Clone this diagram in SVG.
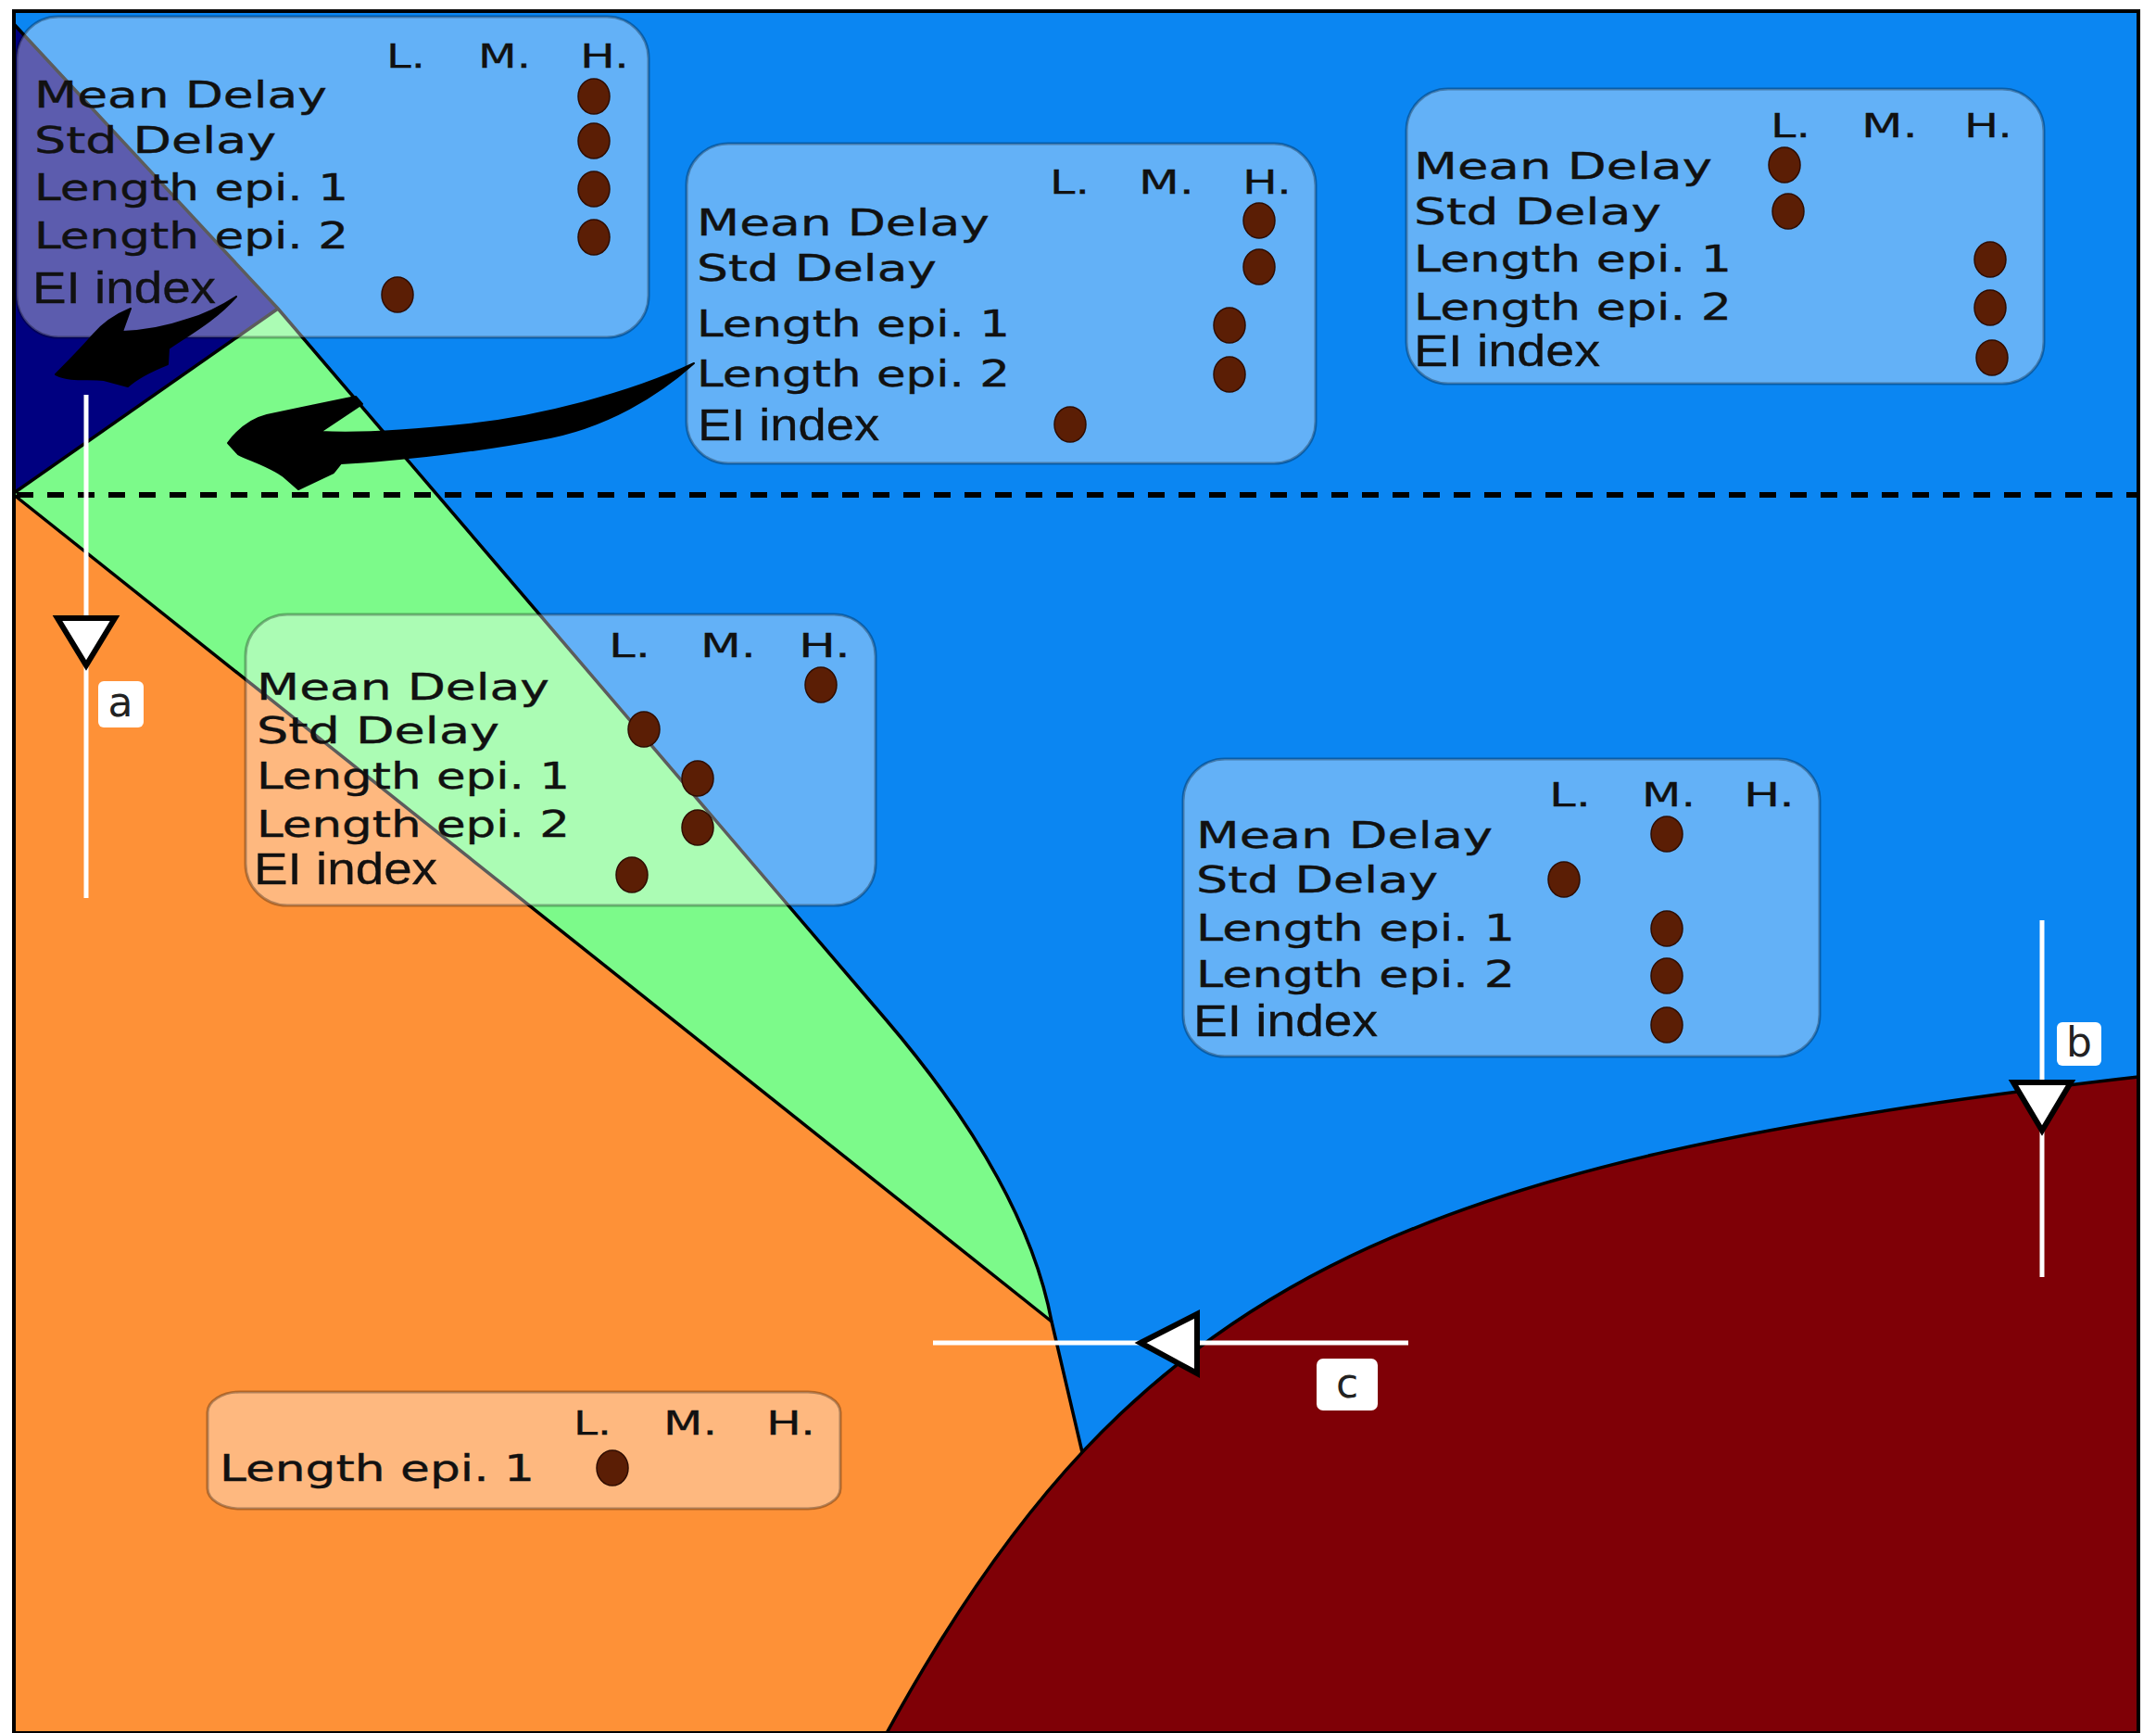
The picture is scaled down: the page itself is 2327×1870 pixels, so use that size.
<svg xmlns="http://www.w3.org/2000/svg" width="2327" height="1870" viewBox="0 0 2327 1870">
<style>
.box{fill:#ffffff;fill-opacity:0.36;stroke:#000;stroke-opacity:0.3;stroke-width:3}
.t{font-family:'DejaVu Sans','Liberation Sans',sans-serif;font-size:39px;fill:#111;stroke:#111;stroke-width:0.4}
.h{font-family:'DejaVu Sans','Liberation Sans',sans-serif;font-size:35px;fill:#111;stroke:#111;stroke-width:0.3}
.ei{font-family:'Liberation Sans','DejaVu Sans',sans-serif;font-size:48px;fill:#111;stroke:#111;stroke-width:0.3}
.dot{fill:#5b1e05;stroke:#2e0c00;stroke-width:1.5}
.bd{fill:none;stroke:#000;stroke-width:3.5}
.wl{stroke:#fff;stroke-width:5;fill:none}
.tri{fill:#fff;stroke:#000;stroke-width:6;stroke-linejoin:miter}
.lab{fill:#fff;stroke:none}
.lt{font-family:'DejaVu Sans','Liberation Sans',sans-serif;font-size:44px;fill:#222;text-anchor:middle}
.arrow{fill:#000;stroke:#000;stroke-width:2;stroke-linejoin:round}
</style>
<rect x="0" y="0" width="2327" height="1870" fill="#fff"/>
<g id="regions">
  <rect x="15" y="12" width="2293" height="1858" fill="#0b86f2"/>
  <path d="M15,26 L300,333 L15,532 Z" fill="#000080"/>
  <path d="M15,533 L300,333 L956,1100 C1050,1210 1115,1320 1135,1426 Z" fill="#7cfa8a"/>
  <path d="M15,535 L1135,1426 L1168,1568 L1185,1610 L957,1870 L15,1870 Z" fill="#fe9137"/>
  <path d="M957,1870 C1226,1379 1514,1254 2308,1162 L2308,1870 Z" fill="#7f0006"/>
  <path class="bd" d="M15,26 L300,333 L956,1100 C1050,1210 1115,1320 1135,1426 L1168,1567"/>
  <path class="bd" d="M15,532 L300,333"/>
  <path class="bd" d="M15,534 L1135,1426"/>
  <path class="bd" d="M957,1870 C1226,1379 1514,1254 2308,1162"/>
  <line x1="18" y1="534" x2="2308" y2="534" stroke="#000" stroke-width="6" stroke-dasharray="18 15"/>
</g>
<g id="marker-a">
  <line class="wl" x1="93" y1="426" x2="93" y2="969"/>
  <path class="tri" d="M62,667 L124,667 L93,718 Z"/>
  <rect class="lab" x="106" y="735" width="49" height="50" rx="6"/>
  <text class="lt" x="130" y="773">a</text>
</g>
<g id="marker-b">
  <line class="wl" x1="2204" y1="993" x2="2204" y2="1378"/>
  <path class="tri" d="M2173,1168 L2235,1168 L2204,1220 Z"/>
  <rect class="lab" x="2220" y="1103" width="48" height="47" rx="6"/>
  <text class="lt" x="2244" y="1140">b</text>
</g>
<g id="marker-c">
  <line class="wl" x1="1007" y1="1449" x2="1520" y2="1449"/>
  <path class="tri" d="M1231,1449 L1292,1418 L1292,1482 Z"/>
  <rect class="lab" x="1421" y="1466" width="66" height="56" rx="7"/>
  <text class="lt" x="1454" y="1508">c</text>
</g>
<g id="box1">
  <rect class="box" x="18" y="18" width="682" height="346" rx="45"/>
  <text class="h" x="417" y="73" textLength="42" lengthAdjust="spacingAndGlyphs">L.</text>
  <text class="h" x="516" y="73" textLength="57" lengthAdjust="spacingAndGlyphs">M.</text>
  <text class="h" x="626" y="73" textLength="53" lengthAdjust="spacingAndGlyphs">H.</text>
  <text class="t" x="37" y="116" textLength="316" lengthAdjust="spacingAndGlyphs">Mean Delay</text>
  <text class="t" x="37" y="165" textLength="261" lengthAdjust="spacingAndGlyphs">Std Delay</text>
  <text class="t" x="37" y="216" textLength="339" lengthAdjust="spacingAndGlyphs">Length epi. 1</text>
  <text class="t" x="37" y="268" textLength="339" lengthAdjust="spacingAndGlyphs">Length epi. 2</text>
  <text class="ei" x="35" y="327" textLength="198" lengthAdjust="spacingAndGlyphs">EI index</text>
  <ellipse class="dot" cx="641" cy="104" rx="17" ry="19"/>
  <ellipse class="dot" cx="641" cy="152" rx="17" ry="19"/>
  <ellipse class="dot" cx="641" cy="204" rx="17" ry="19"/>
  <ellipse class="dot" cx="641" cy="256" rx="17" ry="19"/>
  <ellipse class="dot" cx="429" cy="318" rx="17" ry="19"/>
</g>
<g id="box2">
  <rect class="box" x="741" y="155" width="679" height="345" rx="45"/>
  <text class="h" x="1133" y="209" textLength="43" lengthAdjust="spacingAndGlyphs">L.</text>
  <text class="h" x="1229" y="209" textLength="60" lengthAdjust="spacingAndGlyphs">M.</text>
  <text class="h" x="1341" y="209" textLength="53" lengthAdjust="spacingAndGlyphs">H.</text>
  <text class="t" x="752" y="254" textLength="316" lengthAdjust="spacingAndGlyphs">Mean Delay</text>
  <text class="t" x="752" y="303" textLength="259" lengthAdjust="spacingAndGlyphs">Std Delay</text>
  <text class="t" x="752" y="363" textLength="338" lengthAdjust="spacingAndGlyphs">Length epi. 1</text>
  <text class="t" x="752" y="417" textLength="338" lengthAdjust="spacingAndGlyphs">Length epi. 2</text>
  <text class="ei" x="753" y="475" textLength="196" lengthAdjust="spacingAndGlyphs">EI index</text>
  <ellipse class="dot" cx="1359" cy="238" rx="17" ry="19"/>
  <ellipse class="dot" cx="1359" cy="288" rx="17" ry="19"/>
  <ellipse class="dot" cx="1327" cy="351" rx="17" ry="19"/>
  <ellipse class="dot" cx="1327" cy="404" rx="17" ry="19"/>
  <ellipse class="dot" cx="1155" cy="458" rx="17" ry="19"/>
</g>
<g id="box3">
  <rect class="box" x="1518" y="96" width="688" height="318" rx="45"/>
  <text class="h" x="1911" y="148" textLength="43" lengthAdjust="spacingAndGlyphs">L.</text>
  <text class="h" x="2009" y="148" textLength="61" lengthAdjust="spacingAndGlyphs">M.</text>
  <text class="h" x="2120" y="148" textLength="52" lengthAdjust="spacingAndGlyphs">H.</text>
  <text class="t" x="1526" y="193" textLength="322" lengthAdjust="spacingAndGlyphs">Mean Delay</text>
  <text class="t" x="1526" y="242" textLength="267" lengthAdjust="spacingAndGlyphs">Std Delay</text>
  <text class="t" x="1526" y="293" textLength="343" lengthAdjust="spacingAndGlyphs">Length epi. 1</text>
  <text class="t" x="1526" y="345" textLength="343" lengthAdjust="spacingAndGlyphs">Length epi. 2</text>
  <text class="ei" x="1526" y="395" textLength="201" lengthAdjust="spacingAndGlyphs">EI index</text>
  <ellipse class="dot" cx="1926" cy="178" rx="17" ry="19"/>
  <ellipse class="dot" cx="1930" cy="228" rx="17" ry="19"/>
  <ellipse class="dot" cx="2148" cy="280" rx="17" ry="19"/>
  <ellipse class="dot" cx="2148" cy="332" rx="17" ry="19"/>
  <ellipse class="dot" cx="2150" cy="386" rx="17" ry="19"/>
</g>
<g id="box4">
  <rect class="box" x="265" y="663" width="680" height="314" rx="45"/>
  <text class="h" x="657" y="709" textLength="45" lengthAdjust="spacingAndGlyphs">L.</text>
  <text class="h" x="756" y="709" textLength="60" lengthAdjust="spacingAndGlyphs">M.</text>
  <text class="h" x="862" y="709" textLength="56" lengthAdjust="spacingAndGlyphs">H.</text>
  <text class="t" x="277" y="755" textLength="316" lengthAdjust="spacingAndGlyphs">Mean Delay</text>
  <text class="t" x="277" y="802" textLength="262" lengthAdjust="spacingAndGlyphs">Std Delay</text>
  <text class="t" x="277" y="851" textLength="338" lengthAdjust="spacingAndGlyphs">Length epi. 1</text>
  <text class="t" x="277" y="903" textLength="338" lengthAdjust="spacingAndGlyphs">Length epi. 2</text>
  <text class="ei" x="274" y="954" textLength="198" lengthAdjust="spacingAndGlyphs">EI index</text>
  <ellipse class="dot" cx="886" cy="739" rx="17" ry="19"/>
  <ellipse class="dot" cx="695" cy="787" rx="17" ry="19"/>
  <ellipse class="dot" cx="753" cy="840" rx="17" ry="19"/>
  <ellipse class="dot" cx="753" cy="893" rx="17" ry="19"/>
  <ellipse class="dot" cx="682" cy="944" rx="17" ry="19"/>
</g>
<g id="box5">
  <rect class="box" x="1277" y="819" width="687" height="321" rx="45"/>
  <text class="h" x="1672" y="870" textLength="45" lengthAdjust="spacingAndGlyphs">L.</text>
  <text class="h" x="1772" y="870" textLength="58" lengthAdjust="spacingAndGlyphs">M.</text>
  <text class="h" x="1882" y="870" textLength="55" lengthAdjust="spacingAndGlyphs">H.</text>
  <text class="t" x="1291" y="915" textLength="320" lengthAdjust="spacingAndGlyphs">Mean Delay</text>
  <text class="t" x="1291" y="963" textLength="261" lengthAdjust="spacingAndGlyphs">Std Delay</text>
  <text class="t" x="1291" y="1015" textLength="344" lengthAdjust="spacingAndGlyphs">Length epi. 1</text>
  <text class="t" x="1291" y="1065" textLength="344" lengthAdjust="spacingAndGlyphs">Length epi. 2</text>
  <text class="ei" x="1288" y="1118" textLength="199" lengthAdjust="spacingAndGlyphs">EI index</text>
  <ellipse class="dot" cx="1799" cy="900" rx="17" ry="19"/>
  <ellipse class="dot" cx="1688" cy="949" rx="17" ry="19"/>
  <ellipse class="dot" cx="1799" cy="1002" rx="17" ry="19"/>
  <ellipse class="dot" cx="1799" cy="1053" rx="17" ry="19"/>
  <ellipse class="dot" cx="1799" cy="1106" rx="17" ry="19"/>
</g>
<g id="box6">
  <rect class="box" x="224" y="1502" width="683" height="126" rx="35" ry="22"/>
  <text class="h" x="619" y="1548" textLength="41" lengthAdjust="spacingAndGlyphs">L.</text>
  <text class="h" x="716" y="1548" textLength="58" lengthAdjust="spacingAndGlyphs">M.</text>
  <text class="h" x="827" y="1548" textLength="53" lengthAdjust="spacingAndGlyphs">H.</text>
  <text class="t" x="237" y="1598" textLength="340" lengthAdjust="spacingAndGlyphs">Length epi. 1</text>
  <ellipse class="dot" cx="661" cy="1584" rx="17" ry="19"/>
</g>
<g id="connectors">
  <path class="arrow" d="M246,478 C258,462 272,452 288,448 L326,440 L384,428 L391,436 L346,466 C380,468 440,465 506,458 C580,450 680,425 749,392 C712,425 655,462 583,474 C520,486 430,497 368,500 L360,510 L322,528 L306,514 C290,502 268,496 257,490 Z"/>
  <path class="arrow" d="M255,320 C232,335 216,341 202,345 C182,352 160,357 132,358 L141,333 C124,340 110,350 100,362 C86,378 72,392 60,404 C76,412 95,408 112,410 L138,417 C150,406 166,399 181,393 L182,376 C202,362 232,346 255,320 Z"/>
</g>
<rect x="15" y="12" width="2293" height="1858" fill="none" stroke="#000" stroke-width="4"/>
</svg>
